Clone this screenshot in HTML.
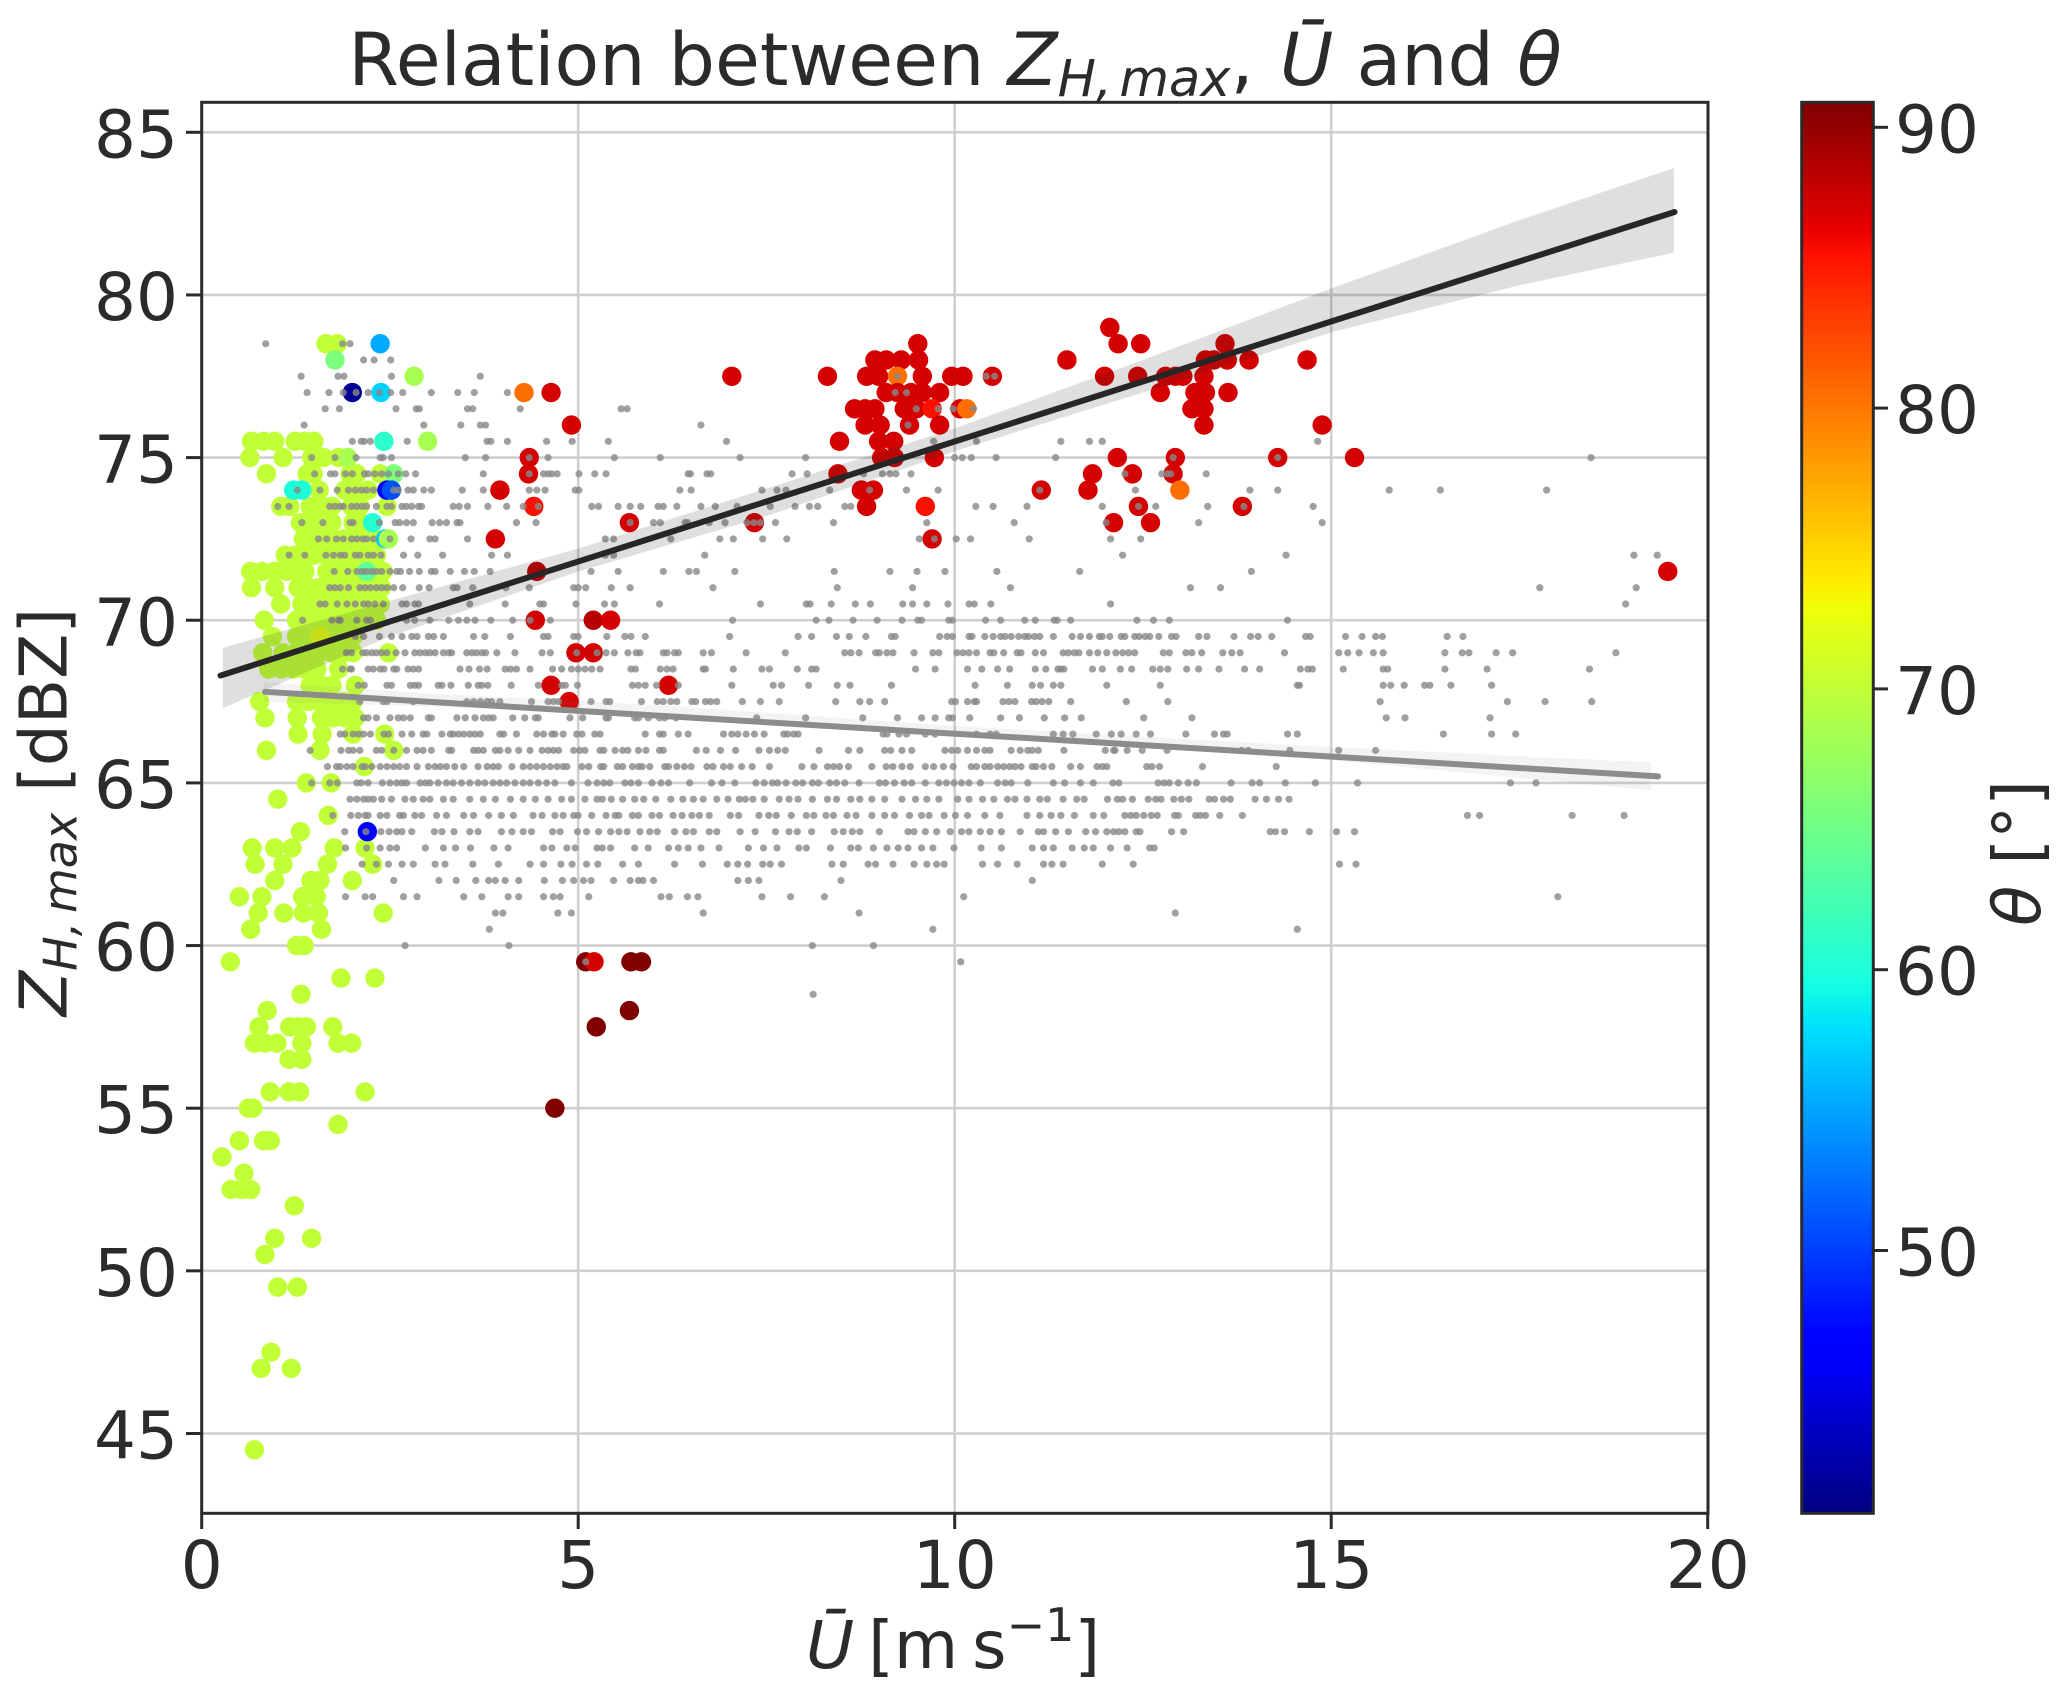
<!DOCTYPE html>
<html lang="en">
<head>
<meta charset="utf-8">
<title>Relation between ZH,max, U and theta</title>
<style>
html,body{margin:0;padding:0;background:#fff;}
svg{display:block;}
text{font-family:"DejaVu Sans","Liberation Sans",sans-serif;fill:#2b2b2b;}
</style>
</head>
<body>
<svg id="chart" xmlns="http://www.w3.org/2000/svg" width="2067" height="1695" viewBox="0 0 2067 1695">
  <defs>
    <linearGradient id="jet-gradient" x1="0" y1="1" x2="0" y2="0"></linearGradient>
    <clipPath id="plot-clip"><rect x="201.7" y="102.3" width="1506.3" height="1411"></rect></clipPath>
  </defs>
  <rect x="0" y="0" width="2067" height="1695" fill="#ffffff"></rect>
  <g id="grid"></g>
  <g id="colored" clip-path="url(#plot-clip)"></g>
  <g id="gray" clip-path="url(#plot-clip)"></g>
  <g id="fits" clip-path="url(#plot-clip)"></g>
  <rect x="201.7" y="102.3" width="1506.3" height="1411" fill="none" stroke="#2b2b2b" stroke-width="3"></rect>
  <g id="xticks"></g>
  <g id="yticks"></g>
  <rect x="1801.7" y="102.3" width="71.6" height="1411" fill="url(#jet-gradient)" stroke="#2b2b2b" stroke-width="3"></rect>
  <g id="cticks"></g>

  <text x="955" y="85" text-anchor="middle" font-size="73">Relation between <tspan font-style="italic">Z</tspan><tspan font-style="italic" font-size="51" dy="11" word-spacing="-9">H, max</tspan><tspan dy="-11">, </tspan><tspan font-style="italic" dx="3">Ū</tspan> and <tspan font-style="italic">θ</tspan></text>
  <text x="953" y="1668" text-anchor="middle" font-size="66" word-spacing="-7"><tspan font-style="italic">Ū</tspan> [m s<tspan font-size="46" dy="-27">−1</tspan><tspan dy="27">]</tspan></text>
  <text transform="translate(66.7 812) rotate(-90)" text-anchor="middle" font-size="66"><tspan font-style="italic">Z</tspan><tspan font-style="italic" font-size="46" dy="10" word-spacing="-6">H, max</tspan><tspan dy="-10"> [dBZ]</tspan></text>
  <text transform="translate(2040 853) rotate(-90)" text-anchor="middle" font-size="66"><tspan font-style="italic">θ</tspan> [°]</text>
</svg>
<script>
const xTicks = [0, 5, 10, 15, 20];
const yTicks = [45, 50, 55, 60, 65, 70, 75, 80, 85];
const thetaTicks = [50, 60, 70, 80, 90];
const thetaMin = 40.6;
const thetaMax = 90.9;

const blackLineU = [0.25, 19.56];
const blackLineZ = [68.3, 82.55];
const blackBandU = [0.28, 2.5, 5, 7.5, 10, 12.5, 15, 17.5, 19.55];
const blackBandHigh = [69.15, 70.6, 72.2, 74.05, 75.9, 78.0, 80.2, 82.3, 83.9];
const blackBandLow = [67.3, 69.5, 71.5, 73.2, 75.2, 77.0, 78.85, 80.3, 81.3];

const grayLineU = [0.84, 19.34];
const grayLineZ = [67.8, 65.2];
const grayBandU = [0.82, 3, 6, 10, 15, 19.25];
const grayBandHigh = [68.1, 67.75, 67.4, 66.75, 66.1, 65.63];
const grayBandLow = [67.5, 67.35, 67.1, 66.5, 65.7, 64.77];

const limeTheta = 70;
const limeRowZ = [78.5, 75.5, 75, 74.5, 74, 73.5, 73, 72.5, 72, 71.5, 71, 70.5, 70, 69.5, 69, 68.5, 68, 67.5, 67, 66.5, 66, 65.5, 65, 64.5, 64, 63.5, 63, 62.5, 62, 61.5, 61, 60.5, 60, 59.5, 59, 58.5, 58, 57.5, 57, 56.5, 55.5, 55, 54.5, 54, 53.5, 53, 52.5, 52, 51, 50.5, 49.5, 47.5, 47, 44.5];
const limeRowU = [
 [1.65,1.80],
 [0.66,0.82,0.97,1.24,1.37,1.49],
 [0.64,1.08,1.46,1.62,1.82],
 [0.86,1.40,1.48,1.97,2.06,2.37],
 [1.56,1.90,2.02,2.21],
 [1.05,1.17,1.44,1.59,1.73,1.99,2.10,2.46],
 [1.31,1.48,1.62,1.73,2.01,2.12],
 [1.35,1.48,1.62,1.75,1.88,2.01,2.17,2.32],
 [1.11,1.24,1.37,1.49,1.66,1.79,1.93,2.06,2.19,2.32],
 [0.65,0.80,0.97,1.13,1.26,1.37,1.66,1.79,1.93,2.06,2.32,2.41],
 [0.66,0.97,1.28,1.42,1.55,1.68,1.82,1.97,2.10,2.24,2.39],
 [1.05,1.33,1.46,1.59,1.73,1.86,1.99,2.13,2.26,2.37],
 [0.83,1.26,1.42,1.55,1.68,1.82,1.95,2.10,2.24,2.32],
 [0.94,1.26,1.42,1.73,1.88,2.01],
 [0.81,1.08,1.26,1.42,1.57,1.73,1.88,2.01,2.48],
 [0.89,1.06,1.22,1.37,1.53,1.82],
 [1.44,1.59,1.73,2.04],
 [0.77,1.26,1.42,1.57,1.73,1.88,2.01],
 [0.84,1.27,1.59,1.75,1.90,2.04],
 [1.28,1.60,2.01,2.43],
 [0.86,1.57,2.55],
 [2.16],
 [1.39,1.72],
 [1.01],
 [1.68],
 [1.31],
 [0.67,0.97,1.20,1.76,2.17],
 [0.71,1.08,1.67,2.27],
 [0.97,1.45,1.57,2.00],
 [0.50,0.80,1.34,1.52],
 [0.75,1.09,1.35,1.55,2.41],
 [0.65,1.59],
 [1.26,1.36],
 [0.38],
 [1.85,2.30],
 [1.32],
 [0.87],
 [0.76,1.17,1.28,1.39,1.74],
 [0.70,0.84,1.00,1.33,1.81,1.99],
 [1.16,1.33],
 [0.91,1.16,1.30,2.17],
 [0.62,0.68],
 [1.81],
 [0.50,0.82,0.91],
 [0.27],
 [0.56],
 [0.39,0.53,0.65],
 [1.23],
 [0.97,1.46],
 [0.84],
 [1.01,1.27],
 [0.92],
 [0.79,1.19],
 [0.70]
];

const otherU = [2.37,1.77,2.82,2.00,2.38,2.42,3.00,1.94,2.55,1.22,1.33,2.46,2.52,2.27,2.44,2.48,2.19,1.57,2.2,
 4.28,4.64,4.91,4.35,4.34,3.96,4.41,5.68,3.90,4.45,4.43,5.20,5.43,4.97,5.20,4.64,6.20,4.88,7.04,7.34,
 9.51,8.94,9.09,9.29,9.52,8.31,8.83,8.99,9.57,9.96,10.11,10.50,9.24,9.09,9.24,9.42,9.57,9.80,8.67,8.81,8.94,9.33,9.49,9.70,10.07,10.16,
 8.81,9.01,9.40,9.80,8.47,8.99,9.19,9.03,9.20,9.73,8.45,8.76,8.92,8.83,9.61,9.70,
 12.06,12.17,12.47,13.59,11.49,13.33,13.44,13.62,13.91,14.68,11.99,12.43,12.80,12.93,13.03,13.31,12.73,13.19,13.33,13.63,13.15,13.31,13.31,14.88,
 12.16,12.93,14.29,15.31,11.83,12.36,12.90,11.15,11.77,12.99,12.44,13.82,12.11,12.60,19.47,
 5.10,5.21,5.70,5.84,5.68,5.24,4.69];
const otherZ = [78.5,78,77.5,77,77,75.5,75.5,75,74.5,74,74,74,74,73,72.5,72.5,71.5,69.5,63.5,
 77,77,76,75,74.5,74,73.5,73,72.5,71.5,70,70,70,69,69,68,68,67.5,77.5,73,
 78.5,78,78,78,78,77.5,77.5,77.5,77.5,77.5,77.5,77.5,77.5,77,77,77,77,77,76.5,76.5,76.5,76.5,76.5,76.5,76.5,76.5,
 76,76,76,76,75.5,75.5,75.5,75,75,75,74.5,74,74,73.5,73.5,72.5,
 79,78.5,78.5,78.5,78,78,78,78,78,78,77.5,77.5,77.5,77.5,77.5,77.5,77,77,77,77,76.5,76.5,76,76,
 75,75,75,75,74.5,74.5,74.5,74,74,74,73.5,73.5,73,73,71.5,
 59.5,59.5,59.5,59.5,58,57.5,55];
const otherTheta = [55.3,65.8,68.4,41.5,57.3,60.9,68.4,68.4,66,60,60,46,50.8,60.5,57,68.4,64,72,46.3,
 80.5,87.2,87.2,87.2,87.2,87.2,85.5,87.2,87.2,88,87.2,88.5,87.2,87.2,87.2,87.2,87.2,87.2,87.2,87.2,
 87.2,87.2,87.2,87.2,87.2,87.2,87.2,87.2,87.2,87.2,87.2,87.2,80.5,87.2,87.2,87.2,87.2,87.2,87.2,87.2,87.2,87.2,87.2,85.5,87.2,80.5,
 87.2,87.2,87.2,87.2,87.2,87.2,87.2,87.2,87.2,87.2,87.2,87.2,87.2,87.2,85.5,87.2,
 87.2,87.2,87.2,87.2,87.2,87.2,87.2,87.2,87.2,87.2,87.2,87.2,87.2,87.2,87.2,87.2,87.2,87.2,87.2,87.2,87.2,87.2,87.2,87.2,
 87.2,87.2,87.2,87.2,87.2,87.2,87.2,87.2,87.2,80.5,87.2,87.2,87.2,87.2,87.2,
 90.9,87.2,90.9,90.9,90.9,90.9,90.9];

const grayRowZ = [78.5,78,77.5,77,76.5,76,75.5,75,74.5,74,73.5,73,72.5,72,71.5,71,70.5,70,69.5,69,68.5,68,67.5,67,66.5,66,65.5,65,64.5,64,63.5,63,62.5,62,61.5,61,60.5,60,59.5,58.5];
const grayRowU = [
 [0.85,1.87,1.97],
 [2.15,2.29,2.51],
 [1.32,1.81,1.89,2.52,3.70,9.24,10.42,10.53],
 [1.40,1.69,1.88,2.05,2.21,2.36,2.51,2.67,3.05,3.40,3.62,4.06,9.21,9.36],
 [1.64,1.83,2.58,2.85,2.89,3.53,3.60,4.23,5.57,5.65,9.49,9.78,9.98,10.25],
 [1.36,2.95,3.44,3.70,3.77,6.63,9.38],
 [2.00,2.12,2.16,2.24,2.73,3.79,3.84,4.06,4.58,4.92,5.40,6.97,9.72,10.29,11.41,11.79,11.96,14.82],
 [1.46,1.77,2.05,2.37,2.41,2.52,3.50,3.77,4.35,4.60,5.48,6.09,7.15,8.02,10.00,10.10,10.22,10.55,11.34,12.90,14.29,18.45],
 [1.50,1.71,1.77,1.91,2.00,2.16,2.21,2.30,2.39,2.48,2.61,2.71,2.84,3.74,4.35,4.54,4.60,4.65,4.72,5.01,5.22,5.37,6.46,6.49,6.71,6.76,7.84,8.04,8.79,9.04,9.14,9.22,9.42,12.26,12.75,12.82,12.87,13.34],
 [1.27,1.57,1.80,1.95,2.04,2.12,2.19,2.28,2.55,2.61,2.74,2.81,2.95,3.05,3.46,3.74,4.35,4.45,4.56,4.96,5.01,6.35,6.50,7.44,7.64,7.76,8.34,8.87,9.36,9.78,11.13,12.40,13.92,14.29,15.77,16.45,17.86],
 [1.01,1.16,1.70,1.77,1.84,1.88,1.99,2.06,2.13,2.19,2.32,2.46,2.52,2.66,2.72,2.79,2.88,2.92,3.34,3.42,3.53,3.80,4.05,4.27,4.47,5.18,5.27,5.53,5.69,5.83,6.06,6.13,6.31,6.63,6.82,7.11,7.55,7.88,8.07,8.18,8.54,8.62,10.28,10.51,10.96,11.96,12.44,12.67,13.36,13.84,14.76],
 [1.33,1.61,1.97,2.01,2.36,2.57,2.63,2.72,2.81,3.06,3.16,3.25,3.39,3.43,4.18,4.44,5.69,6.00,6.09,6.42,6.45,6.74,6.95,7.24,7.33,7.42,7.62,8.39,9.63,10.79,12.01,13.24,14.88],
 [1.55,1.66,1.79,1.88,1.99,2.06,2.14,2.19,2.28,2.50,2.78,3.03,3.10,3.53,5.36,5.47,6.23,6.88,7.06,7.45,7.77,9.53,9.73,10.02,10.21,10.99,12.07,12.47],
 [1.16,1.37,1.65,1.75,1.84,1.90,2.04,2.10,2.21,2.28,2.38,2.68,2.87,3.20,3.85,4.06,5.36,5.47,6.68,12.23,14.40,19.02,19.33],
 [1.76,1.94,2.06,2.13,2.19,2.26,2.32,2.39,2.50,2.59,2.64,2.76,2.89,3.05,3.10,3.30,3.49,3.62,3.83,5.17,5.53,6.13,6.47,6.57,7.08,8.40,9.14,9.50,9.87,10.56,11.66,13.94],
 [1.70,1.77,1.84,1.95,2.10,2.17,2.24,2.32,2.39,2.46,2.55,2.67,2.89,3.02,3.34,3.39,3.60,4.04,4.35,4.94,5.00,5.10,5.44,5.69,6.79,8.44,9.44,10.74,13.13,13.53,17.77,19.05],
 [1.57,1.64,1.80,1.93,2.04,2.15,2.21,2.30,2.41,2.66,2.72,2.83,2.88,3.56,4.03,4.49,4.54,4.97,5.35,5.48,6.08,7.42,8.03,8.08,8.36,8.68,8.88,9.31,9.44,9.63,9.91,10.19,10.26,10.48,12.07,18.91],
 [1.34,1.73,1.82,1.84,2.06,2.19,2.24,2.72,2.83,3.03,3.28,3.41,3.52,3.63,3.84,4.13,4.36,4.63,7.05,8.16,8.33,8.65,8.97,9.30,9.51,9.56,9.92,9.97,10.41,10.61,10.93,11.07,11.32,11.36,11.54,12.42,12.64,12.85,14.42],
 [2.04,2.15,2.36,2.52,2.66,2.79,2.86,3.01,3.08,3.21,3.61,3.76,4.10,4.54,4.60,4.94,5.00,5.38,5.62,5.70,5.89,7.01,7.92,8.10,8.43,8.60,8.82,9.16,9.21,9.80,9.90,9.97,10.19,10.23,10.40,10.51,10.61,10.67,10.75,10.85,10.93,10.98,11.06,11.13,11.31,11.56,11.67,11.79,11.92,11.96,12.06,12.21,12.26,12.39,12.45,12.53,12.59,12.71,12.88,12.94,13.24,13.35,13.71,13.93,14.03,14.21,14.66,14.72,15.19,15.41,15.59,15.68,16.54,16.75],
 [1.92,1.99,2.14,2.19,2.26,2.32,2.39,2.46,2.58,2.70,2.83,2.90,2.97,3.03,3.10,3.21,3.28,3.32,3.52,3.59,3.65,3.72,3.77,3.92,4.16,4.52,4.63,4.98,5.25,5.37,5.48,5.66,5.77,5.82,6.13,6.18,6.28,6.33,6.66,6.77,7.23,7.75,8.54,8.62,8.73,8.95,9.00,9.10,9.18,9.46,9.71,9.79,10.03,10.11,10.19,10.29,10.47,10.52,10.65,10.83,10.88,11.07,11.18,11.44,11.51,11.59,11.65,11.79,11.90,12.02,12.14,12.23,12.31,12.39,12.77,12.85,13.07,13.15,13.28,13.56,13.68,13.79,14.38,15.10,15.22,15.37,15.56,15.69,16.51,16.74,16.83,17.19,17.41,18.78],
 [1.87,1.97,1.99,2.21,2.28,2.37,2.42,2.55,2.59,2.74,2.81,2.88,3.43,3.55,3.69,3.79,4.03,4.10,4.18,4.36,4.66,4.78,4.91,5.00,5.09,5.18,5.29,5.70,5.76,6.09,6.18,6.26,6.66,6.69,7.06,7.44,7.54,7.91,8.10,8.16,9.48,9.74,10.17,10.36,10.57,10.73,11.07,11.21,11.37,11.41,11.45,11.83,11.96,12.20,12.35,12.63,12.73,12.83,13.08,13.24,13.51,13.85,14.05,14.59,14.69,14.75,15.16,15.69,15.75,16.51,17.07,18.43],
 [2.08,2.16,2.46,2.52,2.77,2.83,2.88,3.14,3.19,3.31,3.54,3.67,3.72,3.80,4.11,4.47,4.78,4.83,4.99,5.72,5.80,5.89,6.04,6.33,7.04,7.59,7.70,8.06,8.44,8.61,9.16,10.27,10.70,11.03,11.14,11.31,11.41,12.02,12.73,14.55,14.58,15.69,15.79,15.97,16.24,16.31,16.59,17.13],
 [2.10,2.41,2.46,2.81,3.52,3.61,3.70,3.79,3.85,3.96,4.38,4.60,4.67,4.74,5.17,5.37,5.42,5.84,6.05,6.13,6.23,6.31,6.51,6.56,6.69,6.76,6.84,7.18,7.42,7.67,8.42,8.74,8.87,9.07,9.96,10.01,10.17,10.26,10.29,10.64,10.72,10.80,11.02,11.08,11.16,11.25,11.54,12.28,12.83,15.65,17.34,17.84,18.46],
 [2.15,2.21,2.32,2.50,2.61,2.68,2.77,3.01,3.05,3.39,3.50,3.63,3.74,3.81,3.87,4.13,4.29,4.43,4.47,4.89,5.06,5.37,5.40,5.75,5.80,5.93,6.08,6.15,6.30,7.37,8.02,8.78,9.24,9.56,9.74,9.92,9.97,10.20,10.61,10.86,11.19,11.46,11.68,12.51,13.15,15.73,15.98,17.11],
 [1.84,1.90,2.01,2.08,2.15,2.24,2.42,2.48,2.66,2.79,2.94,2.99,3.19,3.30,3.34,3.41,3.48,3.56,3.63,3.70,3.96,4.01,4.18,4.45,4.54,4.65,4.69,4.80,4.98,5.05,5.22,5.29,5.89,6.08,6.13,6.33,6.46,6.93,7.04,7.12,7.23,7.34,7.47,7.73,7.78,7.86,7.92,9.05,9.10,9.26,9.36,9.61,9.74,10.29,10.47,10.55,11.31,11.44,11.57,11.88,12.08,12.21,12.41,12.60,13.07,13.45,13.57,13.62,14.42,14.55,16.49,17.13,17.45],
 [1.44,1.85,1.95,2.01,2.10,2.32,2.39,2.55,2.72,2.86,2.94,3.05,3.28,3.32,3.61,3.67,3.74,3.90,3.96,4.07,4.21,4.36,4.52,4.60,4.67,4.74,4.94,5.02,5.09,5.29,5.34,5.49,5.59,5.66,5.80,5.90,6.08,6.13,6.57,6.70,6.89,7.09,7.40,7.54,7.65,7.75,8.20,8.59,8.74,9.07,9.15,9.30,9.43,9.87,9.96,10.04,10.17,10.29,10.40,10.47,10.75,10.87,10.97,11.03,11.11,11.45,12.00,12.11,12.13,12.29,12.49,12.82,13.81,13.90,14.45,15.10,15.59],
 [1.67,1.79,1.84,1.93,2.01,2.13,2.17,2.26,2.37,2.46,2.55,2.63,2.72,2.86,3.01,3.10,3.17,3.25,3.36,3.48,3.67,3.79,3.87,3.94,4.12,4.27,4.36,4.45,4.54,4.63,4.72,4.80,4.85,5.05,5.14,5.30,5.34,5.52,5.59,5.72,5.80,5.85,5.95,6.15,6.20,6.31,6.41,6.50,6.71,6.79,6.93,7.02,7.17,7.31,7.54,7.97,8.13,8.31,8.39,8.47,8.59,8.90,9.09,9.18,9.30,9.41,9.61,9.72,9.85,9.98,10.22,10.29,10.40,10.47,10.57,10.65,10.73,10.80,10.88,11.03,11.08,11.18,11.29,11.54,11.67,11.89,11.96,12.02,12.55,12.62,12.72,13.29,14.27],
 [1.46,1.70,1.80,2.06,2.12,2.21,2.40,2.50,2.59,2.66,2.72,2.90,2.97,3.03,3.14,3.25,3.34,3.45,3.56,3.67,3.76,3.87,3.96,4.05,4.16,4.27,4.36,4.47,4.58,4.69,4.91,5.13,5.25,5.34,5.42,5.62,5.70,5.80,5.98,6.10,6.20,6.48,6.77,6.91,7.08,7.36,7.47,7.58,7.65,7.76,7.89,7.98,8.11,8.19,8.34,8.43,8.54,8.73,9.00,9.08,9.20,9.33,9.43,9.61,9.79,9.89,9.99,10.09,10.19,10.34,10.57,10.67,10.75,10.97,11.31,11.46,11.67,11.84,12.10,12.18,12.70,12.78,12.85,12.97,13.10,13.21,13.67,13.95,14.05,14.39,14.79,15.35,17.38,17.72],
 [1.97,2.06,2.15,2.21,2.28,2.39,2.52,2.70,2.81,2.94,3.03,3.21,3.34,3.56,3.74,3.90,4.10,4.27,4.43,4.60,4.78,4.91,5.09,5.25,5.32,5.44,5.59,5.75,5.87,6.03,6.23,6.39,6.53,6.66,6.84,6.99,7.14,7.22,7.32,7.47,7.67,7.80,7.92,8.11,8.31,8.43,8.62,8.74,8.90,9.07,9.30,9.48,9.63,9.79,10.04,10.19,10.37,10.52,10.70,10.80,10.96,11.13,11.23,11.44,11.62,11.72,12.03,12.16,12.23,12.36,12.57,12.67,12.74,12.91,13.01,13.11,13.38,13.45,13.57,13.66,13.99,14.14,14.30,14.44],
 [1.74,1.98,2.08,2.17,2.21,2.37,2.46,2.63,2.68,2.83,2.92,3.12,3.25,3.48,3.61,3.81,3.98,4.14,4.40,4.52,4.69,4.80,4.94,5.00,5.18,5.37,5.49,5.54,5.72,5.80,5.98,6.08,6.26,6.38,6.51,6.61,6.74,7.02,7.13,7.40,7.53,7.63,7.83,8.03,8.13,8.29,8.39,8.57,8.69,8.90,9.07,9.20,9.40,9.56,9.66,9.86,10.01,10.17,10.40,10.60,10.96,11.13,11.28,11.41,11.59,11.84,11.98,12.26,12.34,12.41,12.51,12.61,12.69,12.92,12.97,13.20,13.26,13.33,13.52,13.82,16.81,16.97,18.20,18.89],
 [1.90,2.18,2.38,2.49,2.59,2.66,2.79,3.09,3.19,3.35,3.56,3.67,3.98,4.12,4.27,4.38,4.66,4.76,4.99,5.11,5.27,5.43,5.54,5.65,5.82,5.95,6.05,6.28,6.43,6.53,6.74,6.84,7.15,7.35,7.62,7.80,7.91,8.10,8.40,8.52,8.64,8.74,9.00,9.38,9.46,9.61,9.76,9.94,10.09,10.19,10.34,10.47,10.62,10.87,11.11,11.18,11.34,11.51,11.74,11.87,12.02,12.11,12.18,12.26,12.41,12.46,12.88,13.04,14.19,14.26,14.38,14.71,15.07,15.31],
 [1.91,2.19,2.37,2.50,2.59,2.97,3.21,3.37,3.57,3.88,4.07,4.54,4.65,4.85,4.96,5.25,5.32,5.43,5.75,5.93,6.20,6.33,6.46,6.63,6.87,7.26,7.46,7.64,7.93,8.03,8.35,8.62,8.72,8.92,9.10,9.25,9.38,9.56,9.71,9.99,10.35,10.62,11.03,11.18,11.31,11.56,11.72,11.84,12.07,12.29,12.59,12.65],
 [2.13,2.32,2.48,2.66,2.81,3.10,3.23,3.60,3.94,4.36,4.54,4.77,4.92,5.11,5.26,5.59,5.80,6.28,6.65,6.98,7.12,7.25,7.45,7.55,7.70,8.37,8.52,8.85,8.95,9.18,9.46,9.63,9.76,9.86,10.37,10.57,10.83,11.18,11.29,11.44,11.96,12.37,15.11,15.33],
 [2.55,3.15,3.38,3.64,3.81,3.90,4.03,4.21,4.55,4.79,4.94,5.07,5.17,5.47,5.69,5.80,5.86,6.00,7.12,7.26,7.40,8.49,11.03],
 [1.91,2.17,2.27,2.68,2.86,3.48,3.72,4.07,4.21,4.54,4.67,4.76,5.14,6.10,6.21,6.45,6.59,7.44,7.82,8.27,10.12,18.01],
 [3.90,4.00,4.73,4.91,6.66,8.73,12.93],
 [3.82,9.71,14.55],
 [2.70,4.08,8.11,8.92],
 [5.10,10.08],
 [8.12]
];

const SVG_NS = 'http://www.w3.org/2000/svg';
function xScale(u) { return 201.7 + u * 75.3; }
function yScale(z) { return 132.3 + (85 - z) * 32.53; }
function thetaScale(t) { return 127.3 + (90 - t) * 28.08; }

function interp(points, t) {
  for (let i = 1; i < points.length; i++) {
    if (t <= points[i][0]) {
      const a = points[i - 1], b = points[i];
      return a[1] + (b[1] - a[1]) * (t - a[0]) / (b[0] - a[0]);
    }
  }
  return points[points.length - 1][1];
}
const jetR = [[0,0],[0.35,0],[0.66,1],[0.89,1],[1,0.5]];
const jetG = [[0,0],[0.125,0],[0.375,1],[0.64,1],[0.91,0],[1,0]];
const jetB = [[0,0.5],[0.11,1],[0.34,1],[0.65,0],[1,0]];
function jet(t) {
  t = Math.max(0, Math.min(1, t));
  const c = [interp(jetR, t), interp(jetG, t), interp(jetB, t)].map(v => Math.round(v * 255));
  return 'rgb(' + c[0] + ',' + c[1] + ',' + c[2] + ')';
}
function thetaColor(theta) { return jet((theta - thetaMin) / (thetaMax - thetaMin)); }

function make(tag, attrs, parent) {
  const el = document.createElementNS(SVG_NS, tag);
  for (const k in attrs) el.setAttribute(k, attrs[k]);
  parent.appendChild(el);
  return el;
}

/* colorbar gradient */
const grad = document.getElementById('jet-gradient');
for (let i = 0; i <= 100; i++) {
  make('stop', { offset: (i / 100), 'stop-color': jet(i / 100) }, grad);
}

/* grid and x ticks */
const gridG = document.getElementById('grid');
const xTickG = document.getElementById('xticks');
xTicks.forEach(function (v) {
  const x = xScale(v);
  const gl = make('line', { x1: x, x2: x, y1: 102.3, y2: 1513.3, stroke: '#cfcfcf', 'stroke-width': 2.6 }, gridG);
  
  
  const tm = make('line', { x1: x, x2: x, y1: 1513.3, y2: 1529, stroke: '#2b2b2b', 'stroke-width': 3 }, xTickG);
  
  
  const tl = make('text', { x: x, y: 1588, 'text-anchor': 'middle', 'font-size': 66 }, xTickG);
  
  
  tl.textContent = v;
});

/* y ticks */
const yTickG = document.getElementById('yticks');
yTicks.forEach(function (v) {
  const y = yScale(v);
  const gl = make('line', { x1: 201.7, x2: 1708, y1: y, y2: y, stroke: '#cfcfcf', 'stroke-width': 2.6 }, gridG);
  
  
  const tm = make('line', { x1: 186, x2: 201.7, y1: y, y2: y, stroke: '#2b2b2b', 'stroke-width': 3 }, yTickG);
  
  
  const tl = make('text', { x: 178, y: y + 25, 'text-anchor': 'end', 'font-size': 66 }, yTickG);
  
  
  tl.textContent = v;
});

/* colorbar ticks */
const cTickG = document.getElementById('cticks');
thetaTicks.forEach(function (v) {
  const y = thetaScale(v);
  const tm = make('line', { x1: 1873.3, x2: 1888, y1: y, y2: y, stroke: '#2b2b2b', 'stroke-width': 3 }, cTickG);
  
  
  const tl = make('text', { x: 1895, y: y + 25, 'font-size': 66 }, cTickG);
  
  
  tl.textContent = v;
});

/* coloured points */
const coloredG = document.getElementById('colored');
limeRowZ.forEach(function (z, r) {
  limeRowU[r].forEach(function (u) {
    const c = make('circle', { cx: xScale(u), cy: yScale(z), r: 9.7, fill: thetaColor(limeTheta) }, coloredG);
    
    
  });
});
otherU.forEach(function (u, i) {
  const c = make('circle', { cx: xScale(u), cy: yScale(otherZ[i]), r: 9.7, fill: thetaColor(otherTheta[i]) }, coloredG);
  
  
});

/* gray points */
const grayG = document.getElementById('gray');
grayRowZ.forEach(function (z, r) {
  grayRowU[r].forEach(function (u) {
    const c = make('circle', { cx: xScale(u), cy: yScale(z), r: 3.6, fill: '#888888', 'fill-opacity': 0.8 }, grayG);
    
    
  });
});

/* regression bands and lines */
const fitsG = document.getElementById('fits');
function bandPoints(us, hi, lo) {
  const top = us.map(function (u, i) { return xScale(u) + ',' + yScale(hi[i]); });
  const bottom = us.map(function (u, i) { return xScale(u) + ',' + yScale(lo[i]); }).reverse();
  return top.concat(bottom).join(' ');
}
const grayBand = make('polygon', { points: bandPoints(grayBandU, grayBandHigh, grayBandLow), fill: '#8c8c8c', 'fill-opacity': 0.1 }, fitsG);


const blackBand = make('polygon', { points: bandPoints(blackBandU, blackBandHigh, blackBandLow), fill: '#262626', 'fill-opacity': 0.15 }, fitsG);


const grayLine = make('line', { x1: xScale(grayLineU[0]), y1: yScale(grayLineZ[0]), x2: xScale(grayLineU[1]), y2: yScale(grayLineZ[1]), stroke: '#8c8c8c', 'stroke-width': 6, 'stroke-linecap': 'round' }, fitsG);


const blackLine = make('line', { x1: xScale(blackLineU[0]), y1: yScale(blackLineZ[0]), x2: xScale(blackLineU[1]), y2: yScale(blackLineZ[1]), stroke: '#262626', 'stroke-width': 6, 'stroke-linecap': 'round' }, fitsG);


</script>
</body>
</html>
